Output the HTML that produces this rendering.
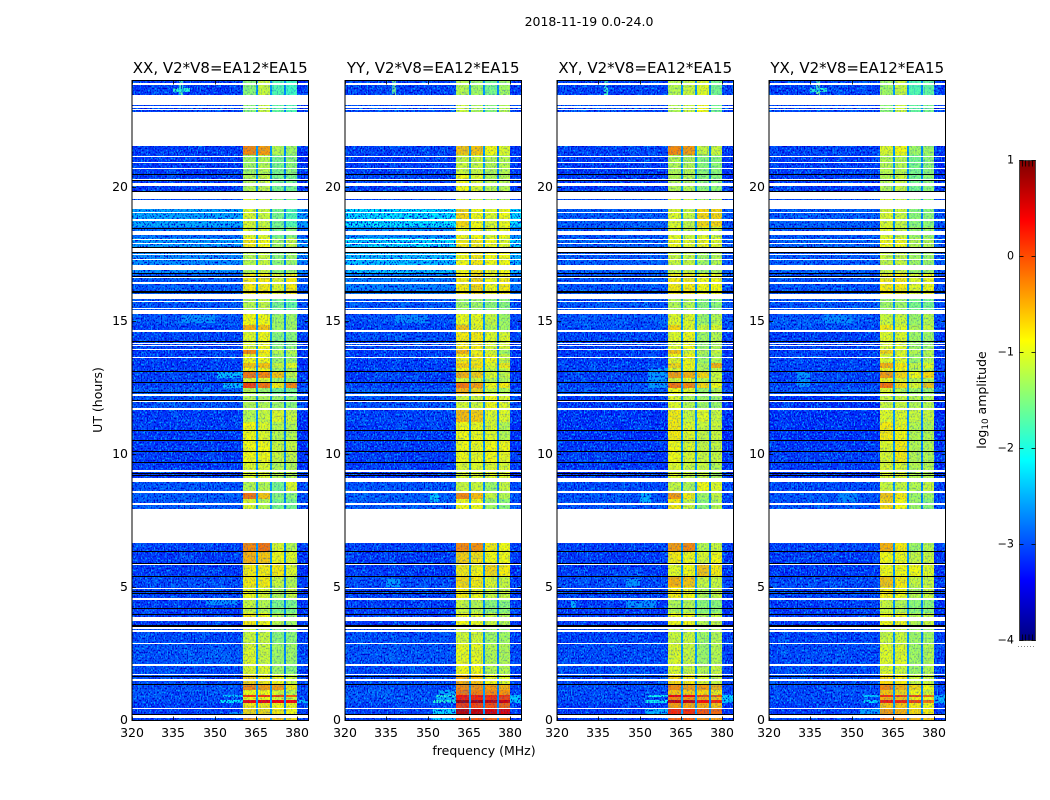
<!DOCTYPE html>
<html lang="en">
<head>
<meta charset="utf-8">
<title>2018-11-19 0.0-24.0</title>
<style>
html,body{margin:0;padding:0;background:#fff;width:1050px;height:800px;overflow:hidden}
svg{display:block}
text{font-family:"DejaVu Sans","Liberation Sans",sans-serif;fill:#000}
</style>
</head>
<body>
<svg id="figure" xmlns="http://www.w3.org/2000/svg" width="1050" height="800" viewBox="0 0 1050 800">
  <defs>
    <filter id="speckle-light" x="0" y="0" width="100%" height="100%" color-interpolation-filters="sRGB">
      <feTurbulence type="fractalNoise" baseFrequency="0.7 0.5" numOctaves="1" seed="3"/>
      <feColorMatrix values="0 0 0 0 0  0 0 0 0 0.62  0 0 0 0 1  5 0 0 0 -2.4"/>
    </filter>
    <filter id="speckle-dark" x="0" y="0" width="100%" height="100%" color-interpolation-filters="sRGB">
      <feTurbulence type="fractalNoise" baseFrequency="0.7 0.5" numOctaves="1" seed="11"/>
      <feColorMatrix values="0 0 0 0 0  0 0 0 0 0  0 0 0 0 0.8  -5 0 0 0 2.5"/>
    </filter>
    <filter id="blotch-light" x="0" y="0" width="100%" height="100%" color-interpolation-filters="sRGB">
      <feTurbulence type="fractalNoise" baseFrequency="0.1 0.06" numOctaves="2" seed="7"/>
      <feColorMatrix values="0 0 0 0 0  0 0 0 0 0.7  0 0 0 0 1  2 0 0 0 -0.95"/>
    </filter>
    <linearGradient id="jet-gradient" x1="0" y1="1" x2="0" y2="0"></linearGradient>
  </defs>
  <text x="589" y="26" font-size="12.5" text-anchor="middle">2018-11-19 0.0-24.0</text>
  <text x="484" y="755" font-size="12.5" text-anchor="middle">frequency (MHz)</text>
  <text transform="translate(102,400) rotate(-90)" font-size="12.5" text-anchor="middle">UT (hours)</text>
  <g id="panels"></g>
  <g id="colorbar"></g>
</svg>
<script>
// --- shared axes (UT hours, MHz, log10 amplitude) ---
const utEdges = [0,.18,.42,.62,.74,.85,.95,1.12,1.36,1.7,2.06,2.87,3.5,4,4.5,5,5.4,5.85,6.3,6.65,7.93,8.3,8.55,9.1,9.7,10.5,11.2,11.7,12.2,12.45,12.65,12.85,13.05,13.2,13.4,13.75,13.9,14.65,14.85,15.3,16,16.8,17.7,18.1,18.5,19.2,19.8,20.5,21.2,21.55,22.85,23.45,24];
const subbandStart = [360.4,365.6,370.6,375.7];
const subbandEnd = [364.8,369.9,375,380];
const notchLevels = [-2.6,-2.6,-2.7];
const freqTicks = [320,335,350,365,380];
const utTicks = [0,5,10,15,20];
const colorTicks = [-4,-3,-2,-1,0,1];
const panelTitles = ["XX, V2*V8=EA12*EA15","YY, V2*V8=EA12*EA15","XY, V2*V8=EA12*EA15","YX, V2*V8=EA12*EA15"];

// --- flagged (blank) and zero-amplitude (black) UT intervals, common to all baselines ---
const utFlagged = [[.06,.1],[.13,.17],[.42,.46],[1.45,1.55],[1.68,1.74],[2.04,2.1],[2.85,2.91],[3.3,3.38],[3.43,3.48],[3.72,3.86],[4.51,4.57],[4.92,4.96],[5.83,5.89],[6.65,7.93],[8.08,8.14],[8.52,8.6],[8.94,9.1],[9.32,9.37],[11.65,11.7],[11.93,11.98],[12.15,12.25],[13.58,13.64],[13.88,13.94],[14.03,14.07],[14.13,14.17],[14.58,14.64],[15.24,15.38],[15.43,15.47],[15.68,15.74],[15.8,16],[16.38,16.44],[16.6,16.64],[16.9,17.08],[17.28,17.32],[17.47,17.51],[17.58,17.74],[17.86,17.9],[18.02,18.07],[18.2,18.35],[18.75,18.8],[19.03,19.08],[19.2,19.53],[19.58,19.85],[20.07,20.15],[20.27,20.31],[20.68,20.72],[20.93,20.97],[21.13,21.17],[21.55,22.85],[22.9,22.95],[23,23.04],[23.1,23.48],[23.85,23.92]];
const utBlack = [[.19,.21],[1.35,1.37],[1.62,1.64],[3.5,3.55],[3.97,3.99],[4.17,4.19],[4.75,4.77],[4.84,4.86],[5.38,5.4],[5.89,5.91],[6.32,6.34],[9.18,9.2],[9.27,9.29],[9.66,9.68],[10.09,10.11],[10.49,10.51],[10.88,10.9],[12,12.02],[12.3,12.33],[12.68,12.7],[13.09,13.11],[14.21,14.23],[16.03,16.12],[16.64,16.68],[16.76,16.8],[17.54,17.56],[17.75,17.77],[18.44,18.47],[19.86,19.88],[20.24,20.26],[20.45,20.51]];

// --- off-band level per UT row ---
const xxOff = [-3.15,-3.15,-3.15,-3.05,-3.05,-3.05,-3.05,-3.05,-3.05,-3.05, -3,-3.05,-3.15,-3.15,-3.1,-3.05,-3.15,-3.15,-3.1,-3.15, -2.95,-2.95,-3,-3.15,-3.15,-3.15,-3.15,-3,-2.95,-3.1, -3.1,-3.1,-3.1,-3.15,-3.15,-3.15,-3.1,-3.1,-3,-3, -2.95,-2.65,-2.55,-2.85,-2.5,-3.05,-3.15,-3.15,-3.15,-3.15,-3.1,-3.15];
const yyOff = [-3.1,-3.1,-3.1,-3,-3,-3,-3,-3.05,-3.05,-3.05, -3,-3.05,-3.15,-3.15,-3.1,-3.05,-3.15,-3.15,-3.1,-3.15, -2.95,-2.95,-3,-3.15,-3.15,-3.15,-3.1,-3,-2.95,-3.15, -3.15,-3.15,-3.15,-3.15,-3.15,-3.15,-3.05,-3.1,-3.05,-3, -2.75,-2.35,-2.2,-2.65,-2.15,-3.05,-3.1,-3.15,-3.1,-3.15,-3.05,-3.1];
const xyOff = [-3.15,-3.15,-3.15,-3.05,-3.05,-3.05,-3.05,-3.05,-3.05,-3.05, -3.05,-3.1,-3.15,-3.15,-3.1,-3.05,-3.15,-3.15,-3.1,-3.15, -3,-3,-3.05,-3.15,-3.15,-3.2,-3.2,-3.15,-3,-3.1, -3.1,-3.1,-3.1,-3.1,-3.15,-3.15,-3.1,-3.05,-3,-3, -3,-2.95,-2.9,-3,-2.95,-3.05,-3.15,-3.15,-3.1,-3.15,-3.05,-3.1];
const yxOff = [-3.15,-3.15,-3.15,-3.05,-3.05,-3.05,-3.05,-3.05,-3.05,-3.05, -3.05,-3.1,-3.15,-3.15,-3.1,-3.05,-3.15,-3.15,-3.1,-3.15, -3,-3,-3.05,-3.15,-3.15,-3.2,-3.2,-3.2,-3,-3.1, -3.1,-3.1,-3.1,-3.1,-3.15,-3.15,-3.1,-3.05,-3,-3, -3,-2.95,-2.9,-3,-2.95,-3.05,-3.15,-3.15,-3.1,-3.15,-3.05,-3.1];

// --- sub-band level per UT row ---
const xxS1 = [-.4,-.7,-.8,.4,-.9,.1,-.9,-.3,-.7,-1, -1,-1.1,-.8,-1.1,-.9,-.8,-.8,-.5,-.3,-1.1, -1,-.2,-1.2,-1,-.9,-.9,-1.2,-1.2,-1.2,.05, -1,-.2,-.9,-.6,-.9,-.3,-1,-.5,-.9,-1.2, -.8,-1.2,-.8,-1,-1,-1,-1.2,-1.3,-.3,-1.1,-1.4,-1.4];
const xxS2 = [-.5,-.7,-.8,.4,-.9,.1,-.9,-.4,-.8,-1, -1.1,-1.1,-.9,-1.2,-1,-.8,-.8,-.6,-.2,-1.1, -1.2,-.6,-1.2,-1,-.9,-1,-1.1,-1.2,-1.3,-.2, -1,-.3,-.9,-.6,-.9,-.8,-.9,-.6,-.9,-1.1, -.8,-1.1,-.9,-1,-1.1,-1.1,-1.1,-1.2,-.4,-1.1,-1.1,-1.1];
const xxS3 = [-.6,-.8,-.9,.4,-1,.05,-1,-.4,-.9,-1.3, -1.3,-1.4,-1.2,-1.5,-1.2,-1.1,-.8,-.9,-1,-1.1, -1.5,-1.4,-1.5,-1.2,-1.1,-1.2,-1,-1.3,-1.5,-.8, -1.3,-.6,-1.3,-1.1,-1.3,-1.2,-1.4,-1.3,-1.3,-1.5, -1,-1.4,-1.3,-1.5,-1.5,-1.4,-1.5,-1.5,-1.2,-1.1,-1.6,-1.7];
const xxS4 = [-.7,-.9,-.9,.35,-1.1,-.1,-1.2,-.8,-1.1,-1.4, -1.3,-1.4,-1.3,-1.5,-1.1,-1.2,-1,-1,-1.2,-1.1, -1.5,-1.4,-1,-1.2,-1.1,-1.2,-1.1,-1.4,-1.5,-.3, -1.4,-1.1,-1.3,-1,-1.3,-1.2,-1.4,-1.3,-1.3,-1.6, -.8,-1.3,-1.1,-1.4,-1.7,-1.5,-1.5,-1.4,-1.3,-1.1,-1.7,-1.8];

const yyS1 = [0,.7,.1,.8,.25,.3,-.2,-.3,-.5,-.9, -.95,-1.05,-.9,-1.1,-.8,-.7,-.8,-.65,-.3,-1.1, -.9,-.3,-1.1,-1,-.9,-.9,-.55,-1.05,-.5,-.2, -1.05,-.5,-.9,-.65,-.8,-.5,-.8,-.6,-.95,-1.3, -.8,-.9,-.8,-.9,-.7,-1,-.9,-1.1,-.6,-1.1,-1.1,-1.2];
const yyS2 = [-.05,.65,.05,.75,.2,.25,-.25,-.35,-.6,-.9, -.95,-1.05,-.95,-1.15,-.9,-.8,-.85,-.75,-.35,-1.1, -.9,-.55,-1.1,-1,-.95,-.95,-.65,-1.05,-.7,-.4, -1.05,-.65,-.95,-.75,-.8,-.85,-.8,-.95,-.95,-1.3, -.7,-.8,-.8,-.9,-.9,-1.1,-1,-1.1,-.6,-1.1,-1.2,-1.3];
const yyS3 = [-.1,.55,0,.65,.15,.2,-.3,-.4,-.9,-1.2, -1.2,-1.3,-1.1,-1.4,-1.1,-1,-.7,-.9,-.8,-1.1, -1.3,-1.1,-1.3,-1,-.9,-1,-1,-.9,-1.1,-.9, -1.2,-1,-1.1,-1,-.9,-1,-1,-1.2,-1.1,-1.4, -.9,-.9,-.9,-1,-1,-1.2,-1.2,-1.2,-.9,-1.1,-1.4,-1.5];
const yyS4 = [-.2,.5,-.1,.55,.05,.15,-.35,-.5,-1,-1.2, -1.2,-1.3,-1.2,-1.4,-1.1,-1.1,-.8,-.9,-.9,-1.1, -1.4,-1.2,-1.1,-1,-.9,-1.2,-1,-1,-1.2,-.8, -1.2,-1.1,-1.1,-.8,-1.1,-1.3,-1,-1.3,-1.3,-1.4, -.8,-.9,-1,-.9,-.9,-1.2,-1.2,-1.2,-1,-1.1,-1.2,-1.3];

const xyS1 = [-.1,.2,-.4,.6,-.3,.4,-.6,-.3,-.7,-1, -1,-1.1,-.9,-1.2,-.8,-.5,-1,-.8,-.4,-1.1, -.8,-.4,-1.1,-1,-.9,-.8,-.8,-1,-.9,-.2, -1,-.4,-1,-.7,-.9,-.6,-1,-.7,-1,-1.2, -.8,-1.1,-.9,-1,-1,-1,-1.2,-1.2,-.3,-1.1,-1.2,-1.2];
const xyS2 = [-.1,.15,-.45,.6,-.35,.35,-.65,-.4,-.8,-1.1, -1.1,-1.1,-.9,-1.2,-.9,-.6,-.9,-.9,-.3,-1.1, -1.1,-.8,-1.2,-1.1,-1,-1,-1.1,-1.2,-1,-.3, -1,-.5,-1,-.9,-.9,-1,-.9,-1,-1,-1.2, -.8,-1.1,-1,-1.1,-1.1,-1.1,-1.2,-1.2,-.4,-1.1,-1.1,-1.1];
const xyS3 = [-.3,-.05,-.5,.3,-.5,.05,-.7,-.4,-1,-1.2, -1.3,-1.3,-1.2,-1.4,-1.2,-1.1,-.6,-1,-1.2,-1.1, -1.4,-1.3,-.9,-1.1,-1.1,-1.1,-1,-1.3,-1.3,-.7, -1.2,-.7,-1.2,-1.2,-1.3,-1.2,-1.3,-1.1,-1.3,-1.4, -.9,-1.3,-.9,-1,-.7,-1.3,-1.4,-1.4,-1.1,-1.1,-.9,-1];
const xyS4 = [-.4,-.15,-.6,.2,-.6,-.05,-.8,-.5,-1.1,-1.1, -1.2,-1.2,-1.1,-1.4,-1.1,-1.1,-.8,-.9,-1.1,-1.1, -1.2,-1.1,-1,-1.2,-1.1,-1.1,-1.1,-1.3,-1.2,-.9, -1.1,-1.1,-1.2,-.5,-1.2,-1.1,-1.2,-1,-1.2,-1.4, -.9,-1.2,-1,-1.1,-.7,-1.2,-1.4,-1.4,-1.1,-1.1,-1.5,-1.5];

const yxS1 = [-.2,-.4,-.6,.25,-.5,.15,-.6,-.3,-.7,-1, -1,-1.1,-.9,-1.1,-.8,-.6,-.9,-.9,-.5,-1.1, -.7,-.6,-1.1,-1,-1,-.8,-1,-1.1,-1,-.2, -.9,-.4,-.9,-.5,-1,-.7,-1,-.8,-1.1,-1.3, -.8,-1.1,-.9,-1,-1,-1,-1.2,-1.2,-1,-1.1,-1.4,-1.3];
const yxS2 = [-.3,-.5,-.6,.2,-.6,.05,-.7,-.5,-.8,-1.1, -1,-1.1,-.9,-1.2,-.9,-.8,-.9,-.9,-.8,-1.1, -.9,-.8,-1.1,-1,-.8,-.9,-1,-1.1,-1.2,-.7, -1,-.7,-.9,-.8,-1,-1,-1,-1,-1.1,-1.3, -.8,-1.1,-.9,-1.1,-1.1,-1.1,-1.1,-1.2,-.9,-1.1,-1.1,-1.1];
const yxS3 = [-.5,-.7,-.8,.05,-.8,0,-.9,-.7,-1.1,-1.3, -1.3,-1.3,-1.2,-1.4,-1.2,-1.1,-.9,-1.1,-1.3,-1.1, -1.3,-1.3,-1.2,-1.2,-1.2,-1.2,-1.1,-1.2,-1.3,-1, -1.2,-.9,-1.2,-1.1,-1.3,-1.2,-1.3,-1.2,-1.3,-1.5, -1,-1.3,-1.2,-1.3,-1.4,-1.4,-1.5,-1.5,-1.3,-1.1,-1.6,-1.7];
const yxS4 = [-.6,-.8,-.9,-.2,-.9,-.2,-1,-.9,-1.1,-1.2, -1.2,-1.3,-1.1,-1.4,-1.1,-1.1,-1,-1.1,-1.2,-1.1, -1.4,-1.3,-1.1,-1.2,-1.2,-1.2,-1.1,-1.2,-1.3,-.6, -1.2,-.7,-1.2,-1,-1.2,-1.2,-1.3,-1.1,-1.2,-1.5, -.9,-1.3,-1.2,-1.3,-1.4,-1.4,-1.4,-1.4,-1.3,-1.1,-1.5,-1.6];

// --- localised off-band features: [utStart, utEnd, freqStart, freqEnd, level] ---
const xxPatches = [[.62,.74,352,360.4,-2.15],[.85,.95,353,360.4,-2.25],[.18,.3,355,360.4,-2.6],[.62,.74,380,384,-2.4],[12.45,12.65,353,360.4,-2.4],[12.85,13.05,351,360.4,-2.4],[14.9,15.2,338,350,-2.65],[23.45,24,337,338.5,-1.7],[23.6,23.72,335,341,-1.9],[4.3,4.5,347,358,-2.65]];
const yyPatches = [[0,.2,352,360.4,-2.3],[.2,.42,352,360.4,-2.2],[.62,.74,352,360.4,-1.95],[.74,.85,353,360.4,-2.45],[.85,.95,353,360.4,-1.95],[.95,1.12,354,360.4,-2.5],[.62,.95,380,384,-2.35],[8.2,8.6,351,354,-2.3],[23.45,24,337,338.5,-1.4],[14.9,15.2,338,350,-2.7],[5,5.3,335,340,-2.6]];
const xyPatches = [[.18,.42,352,360.4,-2.45],[.62,.74,352,360.4,-2.05],[.85,.95,353,360.4,-2.05],[.62,.95,380,384,-2.3],[4.2,4.45,325,327,-2.45],[4.2,4.45,345,356,-2.65],[5,5.3,345,350,-2.65],[8.1,8.6,350,354,-2.45],[12.45,13.2,353,360.4,-2.6],[23.45,24,337,338.5,-1.8]];
const yxPatches = [[.18,.42,353,360.4,-2.55],[.62,.74,354,360.4,-2.25],[.85,.95,354,360.4,-2.25],[.62,.95,380,384,-2.45],[14.9,15.2,340,350,-2.7],[12.5,13.1,330,335,-2.65],[8.2,8.6,345,352,-2.7],[23.45,24,337,338.5,-1.6],[23.6,23.72,335,341,-1.9]];

const panelOff = [xxOff,yyOff,xyOff,yxOff];
const panelBands = [[xxS1,xxS2,xxS3,xxS4],[yyS1,yyS2,yyS3,yyS4],[xyS1,xyS2,xyS3,xyS4],[yxS1,yxS2,yxS3,yxS4]];
const panelPatches = [xxPatches,yyPatches,xyPatches,yxPatches];
const panelKeys = ["xx","yy","xy","yx"];

const NS = "http://www.w3.org/2000/svg";
const panelLefts = [132,345,557,769];
const panelWidth = 176.5;
const axisTop = 80.5, axisBottom = 720.5;
const minLog = -4, maxLog = 1;

function xScale(left, f){ return left + (f - 320) * panelWidth / 64; }
function yScale(u){ return Math.min(axisBottom, Math.max(axisTop, 720 - u * 26.63)); }
function cbY(v){ return 640.5 - (v - minLog) * 96; }
function clamp01(a){ return Math.max(0, Math.min(1, a)); }
function jet(t){
  t = clamp01(t);
  const r = clamp01(Math.min(4*t - 1.5, -4*t + 4.5));
  const g = clamp01(Math.min(4*t - 0.5, -4*t + 3.5));
  const b = clamp01(Math.min(4*t + 0.5, -4*t + 2.5));
  return "rgb(" + Math.round(r*255) + "," + Math.round(g*255) + "," + Math.round(b*255) + ")";
}
function levelColor(v){ return jet((v - minLog) / (maxLog - minLog)); }

function el(tag, attrs, parent){
  const e = document.createElementNS(NS, tag);
  for (const k in attrs) e.setAttribute(k, attrs[k]);
  parent.appendChild(e);
  return e;
}
function band(parent, x0, x1, y0, y1, fill){
  const xa = Math.round(x0), xb = Math.round(x1);
  const ya = Math.round(y1), yb = Math.max(ya + 1, Math.round(y0));
  return el("rect", {x:xa, y:ya, width:xb-xa, height:yb-ya, fill:fill}, parent);
}

const panelsRoot = document.getElementById("panels");
panelTitles.forEach(function(title, p){
  const left = panelLefts[p], right = left + panelWidth;
  const g = el("g", {}, panelsRoot);
  
  

  const cells = el("g", {}, g);
  
  

  for (let r = 0; r < utEdges.length - 1; r++){
    const y0 = yScale(utEdges[r]), y1 = yScale(utEdges[r+1]);
    const off = panelOff[p][r];
    const columns = [[320, 360.4, off], [380, 384, off - 0.05]];
    subbandStart.forEach(function(s, b){
      columns.push([s, subbandEnd[b], panelBands[p][b][r]]);
      if (b < notchLevels.length) columns.push([subbandEnd[b], subbandStart[b+1], notchLevels[b]]);
    });
    columns.forEach(function(c){
      const cell = band(cells, xScale(left, c[0]), xScale(left, c[1]), y0, y1, levelColor(c[2]));
      
      
    });
  }
  panelPatches[p].forEach(function(q){
    const patch = band(cells, xScale(left, q[2]), xScale(left, q[3]), yScale(q[0]), yScale(q[1]), levelColor(q[4]));
    
    
  });

  // fine-grain speckle texture over the cells
  const tex = el("g", {}, g);
  
  
  const xa = Math.round(xScale(left,320)), xb = Math.round(xScale(left,360.4));
  const xc = Math.round(xScale(left,380)), xd = Math.round(right);
  const h = axisBottom - axisTop;
  [[xa,xb-xa,1],[xc,xd-xc,1],[xb,xc-xb,0.25]].forEach(function(t){
    el("rect", {x:t[0], y:81, width:t[1], height:h, filter:"url(#blotch-light)", opacity:0.45*t[2]}, tex);
    el("rect", {x:t[0], y:81, width:t[1], height:h, filter:"url(#speckle-light)", opacity:t[2]}, tex);
    el("rect", {x:t[0], y:81, width:t[1], height:h, filter:"url(#speckle-dark)", opacity:t[2]}, tex);
  });

  utFlagged.forEach(function(u){
    const gap = band(g, left, right, yScale(u[0]), yScale(u[1]), "#fff");
    
    
  });
  utBlack.forEach(function(u){
    const line = band(g, left, right, yScale(u[0]), yScale(u[1]), "#000");
    
    
  });

  const frame = el("rect", {x:left, y:axisTop, width:panelWidth, height:axisBottom-axisTop, fill:"none", stroke:"#000", "stroke-width":1}, g);
  
  

  freqTicks.forEach(function(f){
    const x = Math.round(xScale(left, f)) + 0.5;
    const t1 = el("line", {x1:x, x2:x, y1:axisBottom, y2:axisBottom-4, stroke:"#000", "stroke-width":0.8}, g);
    
    
    const t2 = el("line", {x1:x, x2:x, y1:axisTop, y2:axisTop+4, stroke:"#000", "stroke-width":0.8}, g);
    
    
    const lb = el("text", {x:x-0.5, y:737, "font-size":12.5, "text-anchor":"middle"}, g);
    
    
    lb.textContent = f;
  });
  utTicks.forEach(function(u){
    const y = Math.round(yScale(u)) + 0.5;
    const t1 = el("line", {x1:left, x2:left+4, y1:y, y2:y, stroke:"#000", "stroke-width":0.8}, g);
    
    
    const t2 = el("line", {x1:right, x2:right-4, y1:y, y2:y, stroke:"#000", "stroke-width":0.8}, g);
    
    
    const lb = el("text", {x:left-4, y:y+3.5, "font-size":12.5, "text-anchor":"end"}, g);
    
    
    lb.textContent = u;
  });

  const ttl = el("text", {x:left+panelWidth/2, y:73, "font-size":15, "text-anchor":"middle"}, g);
  
  
  ttl.textContent = title;
});

// --- colorbar ---
const grad = document.getElementById("jet-gradient");
for (let i = 0; i <= 32; i++){
  el("stop", {offset:(i/32*100)+"%", "stop-color":jet(i/32)}, grad);
}
const cb = document.getElementById("colorbar");
const cbLeft = 1019.5, cbRight = 1035.5;
const cbRect = el("rect", {x:cbLeft, y:cbY(maxLog), width:cbRight-cbLeft, height:cbY(minLog)-cbY(maxLog), fill:"url(#jet-gradient)", stroke:"#444", "stroke-width":1}, cb);


colorTicks.forEach(function(v){
  const y = cbY(v);
  const a = el("line", {x1:cbLeft, x2:cbLeft+4, y1:y, y2:y, stroke:"#000", "stroke-width":0.8}, cb);
  
  
  const b = el("line", {x1:cbRight, x2:cbRight-4, y1:y, y2:y, stroke:"#000", "stroke-width":0.8}, cb);
  
  
  const lb = el("text", {x:1014, y:y+3, "font-size":11.1, "text-anchor":"end"}, cb);
  
  
  lb.textContent = (v < 0 ? "\u2212" + (-v) : String(v));
});
[1022.5,1025.5,1029,1032.5].forEach(function(x){
  const a = el("line", {x1:x, x2:x, y1:160.5, y2:166.5, stroke:"#000", "stroke-width":0.8}, cb);
  
  
  const b = el("line", {x1:x, x2:x, y1:640.5, y2:634.5, stroke:"#000", "stroke-width":0.8}, cb);
  
  
});
[1018,1021,1024,1027,1030,1033].forEach(function(x){
  const d = el("rect", {x:x, y:646, width:1, height:1, fill:"#888"}, cb);
  
  
});
const cbTitle = el("text", {transform:"translate(986,400) rotate(-90)", "font-size":12.5, "text-anchor":"middle"}, cb);


cbTitle.appendChild(document.createTextNode("log"));
const sub = el("tspan", {"font-size":8.8, dy:2}, cbTitle);
sub.textContent = "10";
const rest = el("tspan", {dy:-2}, cbTitle);
rest.textContent = " amplitude";
</script>
</body>
</html>
